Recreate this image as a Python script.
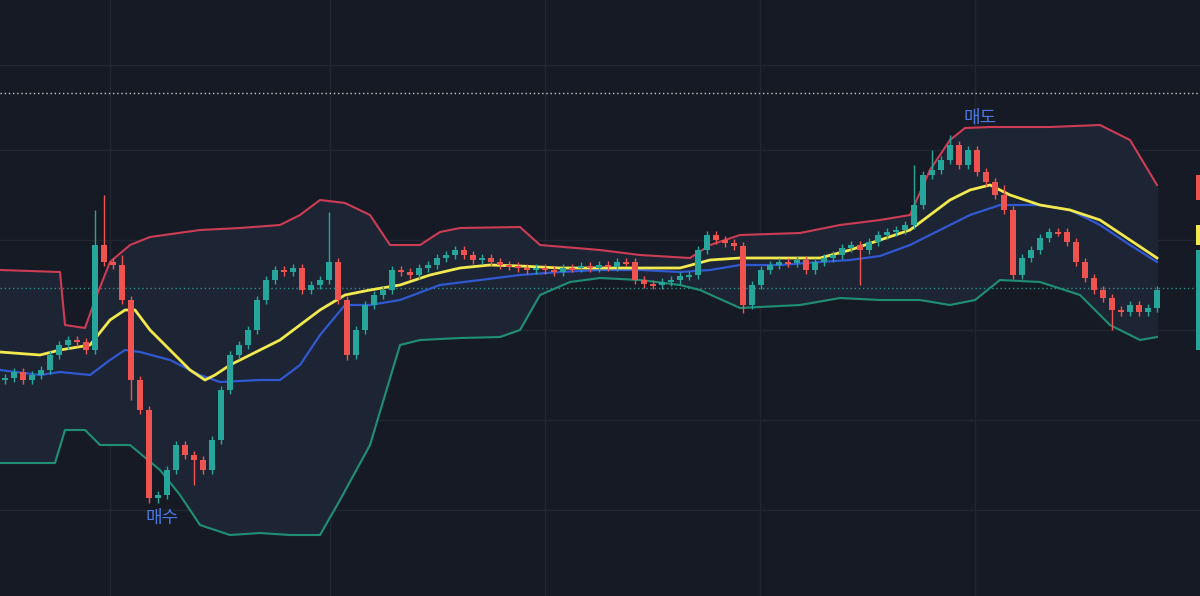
import numpy as np, pandas as pd, seaborn as sns, matplotlib
matplotlib.use("Agg")
import matplotlib.pyplot as plt

closes = [378,372,380,375,370,355,345,340,342,350,245,262,265,300,380,410,498,495,470,445,455,460,470,440,390,355,345,330,300,280,270,272,268,290,285,280,262,300,355,330,305,295,290,270,272,275,268,265,258,255,250,255,260,258,262,265,266,268,270,268,270,272,268,268,266,268,265,267,262,262,280,284,285,282,280,276,275,250,235,240,243,246,305,285,270,265,262,263,260,270,262,258,255,248,245,250,242,235,232,230,225,205,175,170,160,145,165,150,172,182,195,210,275,258,250,238,232,232,242,262,278,290,298,310,312,305,312,308,290]
first_open = 380
wick_hi = {10:35, 11:50, 13:10, 36:50, 101:40, 103:20, 105:10, 111:10}
wick_lo = {14:20, 16:5, 17:5, 21:25, 38:5, 82:8, 95:35, 123:20}

band_x = [0,60,65,85,95,110,130,150,200,240,280,300,320,345,370,390,420,440,460,520,540,600,640,690,710,740,800,840,880,910,930,950,965,990,1050,1100,1130,1157]
upper = [270,272,325,328,300,262,245,237,230,228,225,215,200,203,215,245,245,232,228,227,245,250,255,258,245,235,233,225,220,215,170,140,128,127,127,125,140,185]
mid_x = [0,40,60,90,110,125,135,150,170,190,205,215,230,250,280,300,320,345,370,400,430,460,490,520,560,600,640,680,710,740,780,820,850,880,910,930,950,970,990,1010,1040,1070,1100,1130,1157]
mid = [352,355,350,345,320,310,310,330,350,370,380,375,365,355,340,325,310,295,290,285,275,268,265,266,268,268,268,268,260,258,258,258,250,240,230,215,200,190,185,195,205,210,220,240,258]
blue_x = [0,40,60,90,110,125,140,170,200,220,260,280,300,320,345,370,400,440,480,520,560,600,640,680,710,740,780,820,850,880,910,940,970,1000,1040,1070,1100,1130,1157]
blue = [370,375,372,375,360,350,352,360,375,382,380,380,365,335,305,305,300,285,280,275,272,270,270,272,270,265,265,262,260,256,245,230,215,205,205,210,225,245,262]
low_x = [0,55,65,85,100,130,160,180,200,230,260,290,320,340,370,400,420,460,500,520,540,570,600,640,680,700,740,800,840,880,920,950,975,1000,1040,1080,1110,1140,1157]
lower = [463,463,430,430,445,445,470,495,525,535,533,535,535,500,445,345,340,338,337,330,295,282,278,280,285,290,308,305,298,300,300,305,300,280,282,295,325,340,337]

bg = "#161a25"
fig = plt.figure(figsize=(12, 5.96), dpi=100, facecolor=bg)
ax = fig.add_axes([0, 0, 1, 1], facecolor=bg)
ax.set_xlim(0, 1200); ax.set_ylim(596, 0)
for s in ax.spines.values(): s.set_visible(False)
ax.set_xticks([]); ax.set_yticks([])
for gx in [110, 330, 545, 760, 975]:
    ax.axvline(gx, color="#222633", lw=1, zorder=0)
for gy in [65, 150, 240, 330, 420, 510]:
    ax.axhline(gy, color="#222633", lw=1, zorder=0)
ax.axhline(93, color="#c8c8c8", lw=1, ls=(0, (1, 2)), zorder=2)
ax.axhline(288, color="#2a8f86", lw=1, ls=(0, (1, 2)), zorder=2)

xf = np.linspace(0, 1157, 400)
ax.fill_between(xf, np.interp(xf, band_x, upper), np.interp(xf, low_x, lower), color="#1d2535", zorder=1)

sns.lineplot(x=band_x, y=upper, ax=ax, color="#cc3d55", lw=1.5, zorder=3)
sns.lineplot(x=low_x, y=lower, ax=ax, color="#1f8f74", lw=1.5, zorder=3)
sns.lineplot(x=blue_x, y=blue, ax=ax, color="#3058d0", lw=1.6, zorder=3)
sns.lineplot(x=mid_x, y=mid, ax=ax, color="#f2e94e", lw=2, zorder=4)

n = len(closes)
xs = [5 + 9 * i for i in range(n)]
opens = [first_open] + closes[:-1]
for i in range(n):
    o, c = opens[i], closes[i]
    col = "#26a69a" if c < o else "#ef5350"
    top, bot = min(o, c), max(o, c)
    hi = top - wick_hi.get(i, 4); lo = bot + wick_lo.get(i, 4)
    ax.vlines(xs[i], hi, lo, color=col, lw=1, zorder=5)
    ax.bar(xs[i], max(bot - top, 1.5), bottom=top, width=6, color=col, zorder=6)

ax.text(162, 518, "매수", color="#4a78e0", fontsize=13, ha="center", va="center", family=["Noto Sans CJK KR", "DejaVu Sans"])
ax.text(980, 118, "매도", color="#4a78e0", fontsize=13, ha="center", va="center", family=["Noto Sans CJK KR", "DejaVu Sans"])
ax.bar(1198, 25, bottom=175, width=4, color="#ef5350")
ax.bar(1198, 20, bottom=225, width=4, color="#f2e94e")
ax.bar(1198, 100, bottom=250, width=4, color="#26a69a")
fig.savefig("out.png", dpi=100, facecolor=bg)
